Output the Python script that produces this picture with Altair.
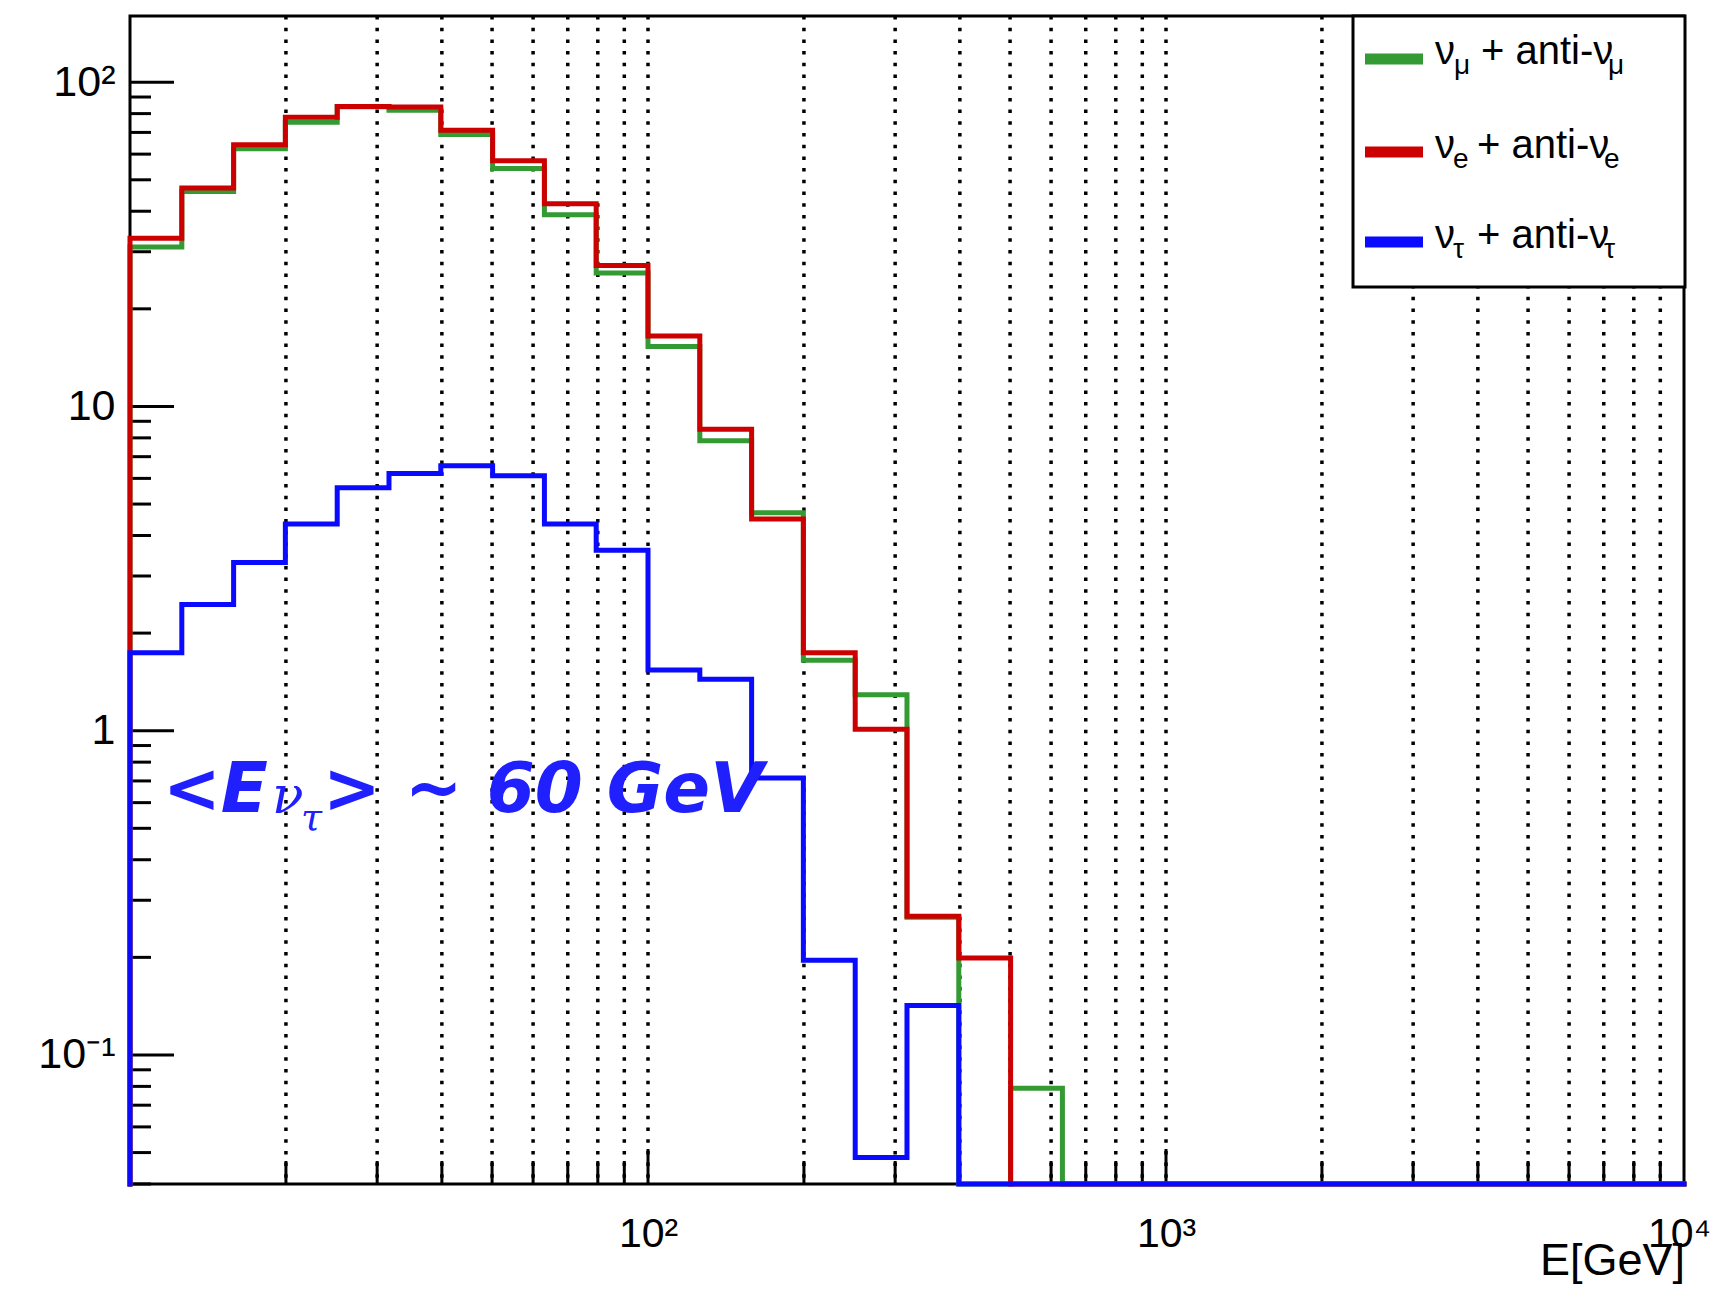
import altair as alt
import pandas as pd

# ---------------- data ----------------
edges = [10, 12.59, 15.85, 19.95, 25.12, 31.62, 39.81, 50.12, 63.10, 79.43,
         100, 125.9, 158.5, 199.5, 251.2, 316.2, 398.1, 501.2, 631.0, 794.3,
         1000, 1259, 1585, 1995, 2512, 3162, 3981, 5012, 6310, 7943, 10000]

numu = [31.0, 46.0, 62.3, 75.2, 84.0, 82.0, 69.0, 54.2, 39.0, 25.8,
        15.3, 7.84, 4.7, 1.65, 1.29, 0.266, 0, 0.079, 0, 0,
        0, 0, 0, 0, 0, 0, 0, 0, 0, 0]
nue = [33.0, 47.2, 64.1, 78.0, 84.1, 83.8, 71.1, 57.2, 42.2, 27.2,
       16.5, 8.5, 4.5, 1.74, 1.01, 0.268, 0.199, 0, 0, 0,
       0, 0, 0, 0, 0, 0, 0, 0, 0, 0]
nutau = [1.74, 2.45, 3.3, 4.34, 5.61, 6.21, 6.56, 6.11, 4.34, 3.6,
         1.54, 1.44, 0.715, 0.196, 0.0483, 0.142, 0, 0, 0, 0,
         0, 0, 0, 0, 0, 0, 0, 0, 0, 0]

series_colors = ["#349a34", "#cc0000", "#0a0aff"]
legend_sub = ["\u03bc", "e", "\u03c4"]

x_grid = [20, 30, 40, 50, 60, 70, 80, 90, 100, 200, 300, 400, 500, 600, 700, 800, 900,
          1000, 2000, 3000, 4000, 5000, 6000, 7000, 8000, 9000]
x_minor = [20, 30, 40, 50, 60, 70, 80, 90, 200, 300, 400, 500, 600, 700, 800, 900,
           2000, 3000, 4000, 5000, 6000, 7000, 8000, 9000]
x_major = [100, 1000]
x_labels = [100, 1000, 10000]
y_minor = [0.04, 0.05, 0.06, 0.07, 0.08, 0.09, 0.2, 0.3, 0.4, 0.5, 0.6, 0.7, 0.8, 0.9,
           2, 3, 4, 5, 6, 7, 8, 9, 20, 30, 40, 50, 60, 70, 80, 90]
y_major = [0.1, 1, 10, 100]

YMIN, YMAX = 0.04, 160
W, H = 1554, 1168
FONT = "Liberation Sans"

xs = alt.Scale(type="log", domain=[10, 10000], nice=False)
ys = alt.Scale(type="log", domain=[YMIN, YMAX], nice=False)

x_axis = alt.Axis(values=x_labels, ticks=False, tickSize=0, domain=False, grid=False,
                  labelExpr="datum.value == 100 ? '10\u00b2' : datum.value == 1000 ? '10\u00b3' : '10\u2074'",
                  labelFont=FONT, labelFontSize=41, labelColor="black", labelPadding=30,
                  labelOffset={"condition": {"test": "datum.value == 10000", "value": -5}, "value": 0},
                  labelFlush=False, labelOverlap=False, title=None)
y_axis = alt.Axis(values=y_major, ticks=False, tickSize=0, domain=False, grid=False,
                  labelExpr="datum.value == 100 ? '10\u00b2' : datum.value == 10 ? '10' : datum.value == 1 ? '1' : '10\u207b\u00b9'",
                  labelFont=FONT, labelFontSize=43, labelColor="black", labelPadding=15,
                  labelOverlap=False, title=None)

X = alt.X("x:Q", scale=xs, axis=x_axis, title=None)
Y = alt.Y("y:Q", scale=ys, axis=y_axis, title=None)


def hist_df(vals):
    rows = [{"x": edges[0], "v": 0.0, "i": 0}]
    for k, v in enumerate(vals):
        rows.append({"x": edges[k], "v": v, "i": k + 1})
    rows.append({"x": edges[-1], "v": vals[-1], "i": len(vals) + 1})
    return pd.DataFrame(rows)


def hist(vals, color):
    return (alt.Chart(hist_df(vals))
            .transform_calculate(y=f"max(datum.v, {YMIN})")
            .mark_line(interpolate="step-after", strokeWidth=5, color=color,
                       strokeCap="square", strokeJoin="miter", clip=False)
            .encode(x=X, y=Y, order=alt.Order("i:Q")))


one = pd.DataFrame({"a": [0]})

grid = alt.Chart(pd.DataFrame({"x": x_grid})).mark_rule(
    color="black", strokeWidth=3.5, strokeDash=[3.5, 8.2]).encode(x=X)

xt_minor = alt.Chart(pd.DataFrame({"x": x_minor})).mark_rule(color="black", strokeWidth=3).encode(
    x=X, y=alt.value(H), y2=alt.value(H - 23))
xt_major = alt.Chart(pd.DataFrame({"x": x_major})).mark_rule(color="black", strokeWidth=3).encode(
    x=X, y=alt.value(H), y2=alt.value(H - 35))
yt_minor = alt.Chart(pd.DataFrame({"y": y_minor})).mark_rule(color="black", strokeWidth=3).encode(
    y=Y, x=alt.value(0), x2=alt.value(21))
yt_major = alt.Chart(pd.DataFrame({"y": y_major})).mark_rule(color="black", strokeWidth=3).encode(
    y=Y, x=alt.value(0), x2=alt.value(44))

layers = [grid, xt_minor, xt_major, yt_minor, yt_major,
          hist(numu, series_colors[0]), hist(nue, series_colors[1]), hist(nutau, series_colors[2])]

# legend box
layers.append(alt.Chart(one).mark_rect(fill="white", stroke="black", strokeWidth=3).encode(
    x=alt.value(1223), x2=alt.value(1555), y=alt.value(0), y2=alt.value(271)))


def txt(s, x, y, size, font=FONT, weight="normal", style="normal", color="black", align="left"):
    return alt.Chart(one).mark_text(text=s, font=font, fontSize=size, fontWeight=weight,
                                    fontStyle=style, color=color, align=align,
                                    baseline="alphabetic").encode(x=alt.value(x), y=alt.value(y))


row_line_y = [43, 136, 226]
row_base = [48, 142, 232]
row_sub_x = [1324, 1323, 1323]
row_plus_x = [1351, 1347, 1347]
row_sub2_x = [1478, 1474, 1474]
for k in range(3):
    layers.append(alt.Chart(one).mark_rule(color=series_colors[k], strokeWidth=11).encode(
        x=alt.value(1235), x2=alt.value(1293), y=alt.value(row_line_y[k])))
    layers.append(txt("\u03bd", 1305, row_base[k], 40))
    layers.append(txt(legend_sub[k], row_sub_x[k], row_base[k] + 10, 28))
    layers.append(txt("+ anti-\u03bd", row_plus_x[k], row_base[k], 40))
    layers.append(txt(legend_sub[k], row_sub2_x[k], row_base[k] + 10, 28))

# annotation
ann_color = "#2020ff"
layers.append(txt("<E", 33, 796, 69, font="DejaVu Sans", weight="bold", style="italic", color=ann_color))
layers.append(txt("\u03bd", 142, 797, 52, font="DejaVu Serif", style="italic", color=ann_color))
layers.append(txt("\u03c4", 171, 814, 38, font="DejaVu Serif", style="italic", color=ann_color))
layers.append(txt("> ~ 60 GeV", 193, 796, 69, font="DejaVu Sans", weight="bold", style="italic", color=ann_color))

# x title
layers.append(txt("E[GeV]", W + 1, 1259, 45, align="right"))

chart = (alt.layer(*layers)
         .properties(width=W, height=H,
                     padding={"left": 122, "top": 8, "right": 30, "bottom": 100},
                     autosize=alt.AutoSizeParams(type="none"),
                     background="white")
         .configure_view(stroke="black", strokeWidth=3))

chart.save("out.html", embed_options={"renderer": "svg", "actions": False})
